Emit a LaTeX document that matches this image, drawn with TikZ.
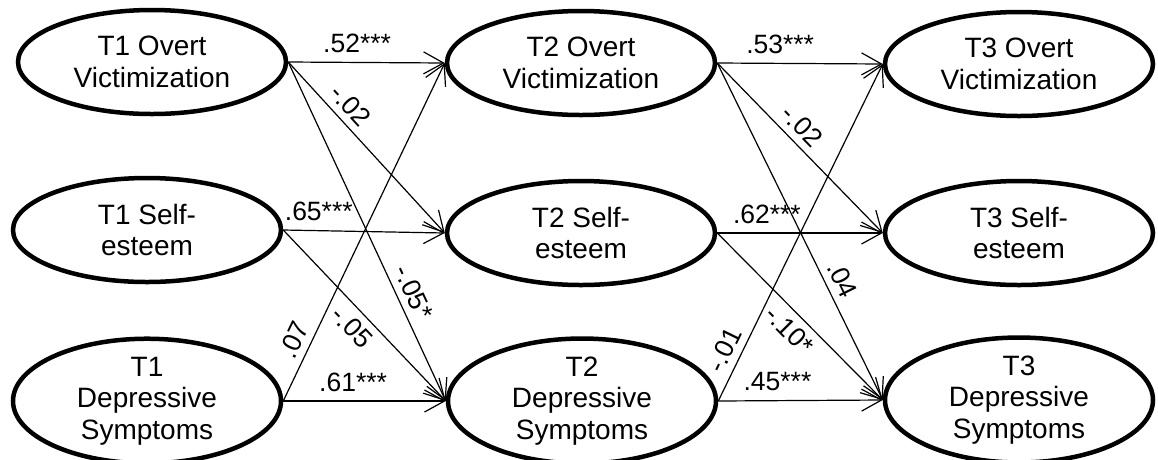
\documentclass[tikz,border=0pt]{standalone}
\usepackage{fontspec}
\setmainfont{Liberation Sans}
\usetikzlibrary{shapes.geometric,arrows.meta}
\begin{document}
\begin{tikzpicture}[x=1pt,y=-1pt,
  latent/.style={ellipse,draw,line width=4.5pt,fill=white,inner sep=0pt,
    minimum width=268pt,minimum height=104pt,align=center,
    font=\fontsize{28}{31.5}\selectfont},
  path/.style={line width=1.2pt,-{Straight Barb[length=20pt,width=22pt,line width=1.2pt]}},
  coef/.style={font=\fontsize{26.5}{30}\selectfont,inner sep=2pt},
  up/.style={coef,above=7pt},
  sup/.style={coef,sloped,above=5pt},
  sdn/.style={coef,sloped,below=5pt}]
\useasboundingbox (0,0) rectangle (1158,459);
% T1 constructs
\node[latent] (ov1) at (152,62)  {T1 Overt\\Victimization};
\node[latent] (se1) at (147,230) {T1 Self-\\esteem};
\node[latent] (dp1) at (147,401) {T1\\Depressive\\Symptoms};
% T2 constructs
\node[latent] (ov2) at (581,63)  {T2 Overt\\Victimization};
\node[latent] (se2) at (581,233) {T2 Self-\\esteem};
\node[latent] (dp2) at (582,401) {T2\\Depressive\\Symptoms};
% T3 constructs
\node[latent] (ov3) at (1019,64)  {T3 Overt\\Victimization};
\node[latent] (se3) at (1019,233) {T3 Self-\\esteem};
\node[latent] (dp3) at (1019,400) {T3\\Depressive\\Symptoms};
% T1 -> T2 paths
\draw[path] (ov1.east) -- node[up,pos=0.44] {.52***} (ov2.west);
\draw[path] (ov1.east) -- node[sup,pos=0.32] {-.02} (se2.west);
\draw[path] (ov1.east) -- node[sup,pos=0.70] {-.05*} (dp2.west);
\draw[path] (se1.east) -- node[up,pos=0.22] {.65***} (se2.west);
\draw[path] (se1.east) -- node[sdn,pos=0.50] {-.05} (dp2.west);
\draw[path] (dp1.east) -- node[up,pos=0.43] {.61***} (dp2.west);
\draw[path] (dp1.east) -- node[sup,pos=0.16] {.07} (ov2.west);
% T2 -> T3 paths
\draw[path] (ov2.east) -- node[up,pos=0.38] {.53***} (ov3.west);
\draw[path] (ov2.east) -- node[sup,pos=0.44] {-.02} (se3.west);
\draw[path] (ov2.east) -- node[sup,pos=0.665] {.04} (dp3.west);
\draw[path] (se2.east) -- node[up,pos=0.30] {.62***} (se3.west);
\draw[path] (se2.east) -- node[sdn,pos=0.51] {-.10*} (dp3.west);
\draw[path] (dp2.east) -- node[up,pos=0.36] {.45***} (dp3.west);
\draw[path] (dp2.east) -- node[sup,pos=0.13] {-.01} (ov3.west);
\end{tikzpicture}
\end{document}
